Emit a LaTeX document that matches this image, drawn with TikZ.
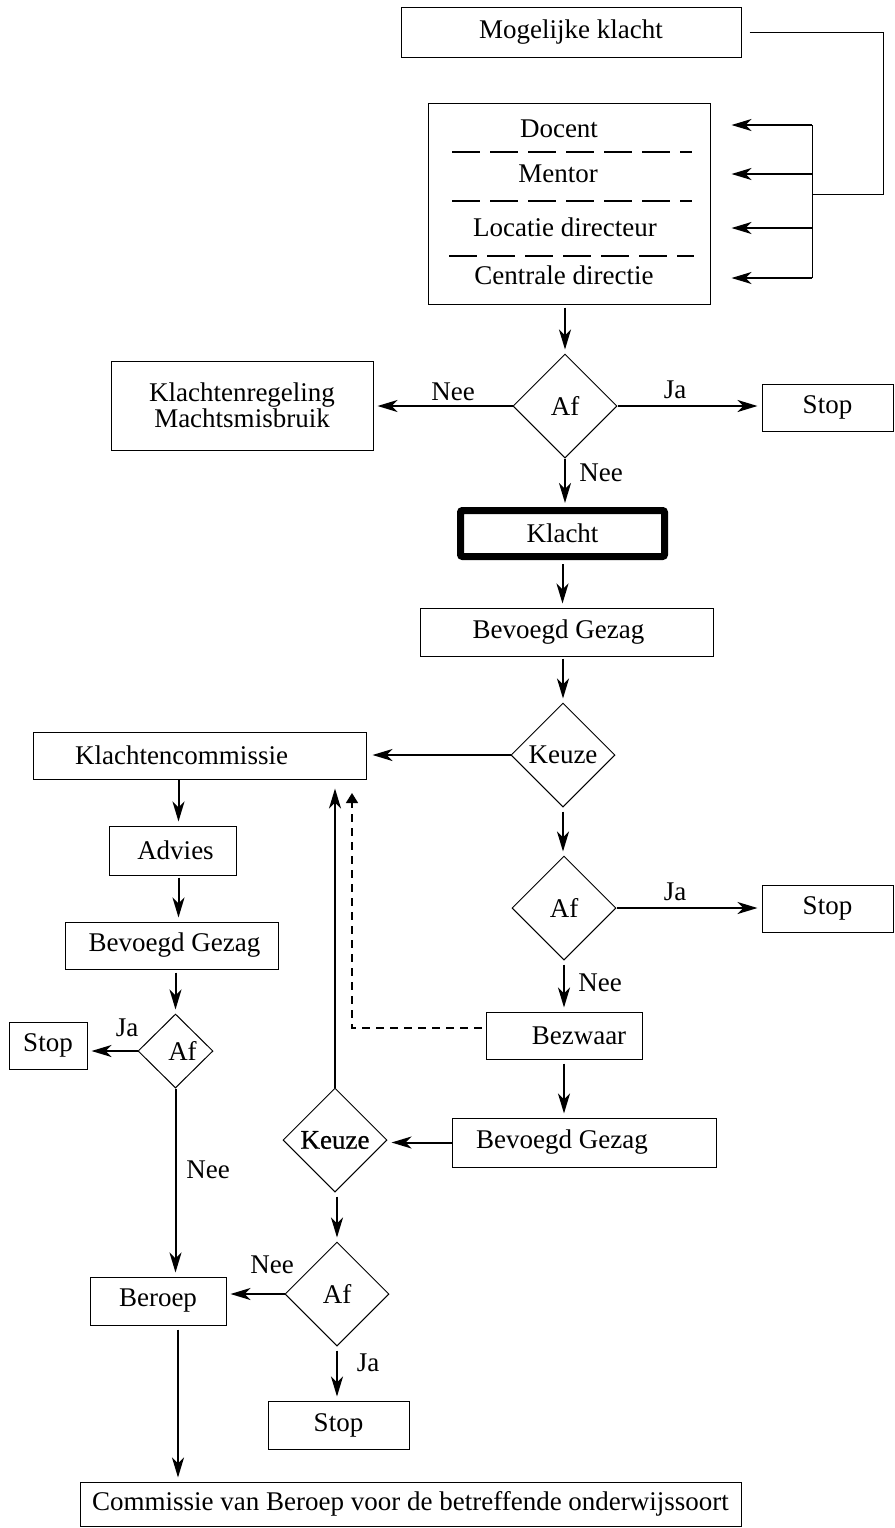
\documentclass[tikz,border=0pt]{standalone}
\usepackage{fontspec}
\setmainfont{Liberation Serif}
\newfontfamily\heavyfont[FakeBold=0.7]{Liberation Serif}
\usetikzlibrary{arrows.meta,shapes.geometric}
\begin{document}
\begin{tikzpicture}[x=0.5pt,y=-0.5pt,
  font=\fontsize{13.5}{13}\selectfont,
  box/.style={draw, line width=0.5pt, inner sep=0pt},
  dia/.style={draw, diamond, aspect=1, line width=0.5pt, inner sep=0pt, minimum width=52pt, minimum height=52pt},
  arr/.style={line width=1pt, shorten >=2pt, -{Stealth[length=10pt,width=6pt,inset=3pt]}},
  thinarr/.style={line width=0.6pt, -{Stealth[length=10pt,width=6pt,inset=3pt]}},
  thickarr/.style={line width=1pt, -{Stealth[length=10pt,width=6pt,inset=3pt]}},
  darr/.style={line width=0.75pt, dash pattern=on 4pt off 3pt, shorten <=2pt, -{Triangle[length=5pt,width=6pt]}},
  sep/.style={line width=0.75pt, dash pattern=on 14pt off 5pt},
  wire/.style={line width=0.5pt},
  lbl/.style={inner sep=0pt},
]
\useasboundingbox (0,0) rectangle (895,1528);

% top part
\node[box, minimum width=170pt, minimum height=25pt] (mog) at (571,32) {Mogelijke klacht};
\node[box, minimum width=141pt, minimum height=100.5pt] (loket) at (569,203.5) {};
\node[lbl] (docent) at (559,129) {Docent};
\node[lbl] (mentor) at (558,174) {Mentor};
\node[lbl] (locatie) at (565,227) {Locatie directeur};
\node[lbl] (centrale) at (564,275) {Centrale directie};
\draw[sep] (452,152) -- (692,152);
\draw[sep] (452,201) -- (692,201);
\draw[sep] (449,256) -- (694,256);

\coordinate (c2) at (883,194);
\coordinate (bus) at (812,194);
\coordinate (m1) at (812,125);
\coordinate (m2) at (812,174);
\coordinate (m3) at (812,228);
\coordinate (m4) at (812,278);
\draw[wire] ([xshift=4pt]mog.east) -| (c2) -- (bus);
\draw[wire] (m1) -- (m4);
\draw[thinarr] (m1) -- ([xshift=10.5pt]loket.east |- m1);
\draw[thickarr] (m2) -- ([xshift=10.5pt]loket.east |- m2);
\draw[thickarr] (m3) -- ([xshift=10.5pt]loket.east |- m3);
\draw[thinarr] (m4) -- ([xshift=10.5pt]loket.east |- m4);

% first decision
\node[dia] (af1) at (565,406) {Af};
\node[box, minimum width=131pt, minimum height=44.5pt, align=center] (regel) at (242,405.5) {Klachtenregeling\\Machtsmisbruik};
\node[box, minimum width=65.5pt, minimum height=23.5pt] (stop1) at (827.5,407.5) {Stop};
\draw[arr, shorten <=1.5pt] (af1.north |- loket.south) -- (af1.north);
\draw[arr] (af1.west) -- (af1.west -| regel.east);
\draw[arr] (af1.east) -- (af1.east -| stop1.west);
\node[lbl] (nee1) at (453,392) {Nee};
\node[lbl] (ja1) at (675,390) {Ja};

\node[draw, line width=3.5pt, rounded corners=1pt, inner sep=0pt, minimum width=102pt, minimum height=23pt] (klacht) at (562.5,533.5) {Klacht};
\draw[arr] (af1.south) -- (af1.south |- klacht.north);
\node[lbl] (nee2) at (601,473) {Nee};

\node[box, minimum width=146.5pt, minimum height=24pt] (bg1) at (566.5,632) {Bevoegd Gezag\hspace*{8pt}};
\draw[arr, shorten <=2pt] (klacht.south) -- (klacht.south |- bg1.north);

\node[dia] (keuze1) at (563,755) {Keuze};
\draw[arr, shorten <=1pt] (bg1.south -| keuze1.north) -- (keuze1.north);

% left column
\node[box, minimum width=166.5pt, minimum height=23.5pt] (kc) at (199.5,755.5) {Klachtencommissie\hspace*{18pt}};
\draw[arr, shorten >=3pt] (keuze1.west) -- (keuze1.west -| kc.east);

\node[box, minimum width=63.5pt, minimum height=24.5pt] (advies) at (172.5,850.5) {\hspace*{3pt}Advies};
\draw[arr] ([xshift=3pt]advies.north |- kc.south) -- ([xshift=3pt]advies.north);

\node[box, minimum width=106.5pt, minimum height=23.5pt] (bg2) at (171.5,945.5) {\hspace*{3pt}Bevoegd Gezag};
\draw[arr, shorten <=1pt] ([xshift=3pt]advies.south) -- ([xshift=3pt]advies.south |- bg2.north);

\node[dia, minimum width=37.5pt, minimum height=37pt] (af2) at (175.5,1051) {\hspace*{7pt}Af};
\draw[arr, shorten <=1.5pt] (af2.north |- bg2.south) -- (af2.north);

\node[box, minimum width=39pt, minimum height=23.5pt] (stop2) at (48,1045.5) {Stop};
\draw[arr] (af2.west) -- (af2.west -| stop2.east);
\node[lbl] (ja2) at (127,1028) {Ja};

\node[box, minimum width=68pt, minimum height=24pt] (beroep) at (158,1301) {Beroep};
\draw[arr] (af2.south) -- (af2.south |- beroep.north);
\node[lbl] (nee3) at (208,1170) {Nee};

\node[box, minimum width=330.5pt, minimum height=22pt] (comm) at (410.5,1504) {Commissie van Beroep voor de betreffende onderwijssoort};
\draw[arr, shorten <=2pt] ([xshift=10pt]beroep.south) -- ([xshift=10pt]beroep.south |- comm.north);

% right column
\node[dia] (af3) at (564,908) {Af};
\draw[arr, shorten <=2pt] (keuze1.south) -- (keuze1.south |- af3.north);
\node[box, minimum width=65.5pt, minimum height=23.5pt] (stop3) at (827.5,908.5) {Stop};
\draw[arr] (af3.east) -- (af3.east -| stop3.west);
\node[lbl] (ja3) at (675,892) {Ja};

\node[box, minimum width=78pt, minimum height=23.5pt] (bezwaar) at (564,1035.5) {\hspace*{15pt}Bezwaar};
\draw[arr, shorten <=2pt] (af3.south) -- (af3.south |- bezwaar.north);
\node[lbl] (nee4) at (600,983) {Nee};

\node[box, minimum width=132pt, minimum height=24.5pt] (bg3) at (584,1142.5) {Bevoegd Gezag\hspace*{22pt}};
\draw[arr, shorten <=2pt] (bezwaar.south) -- (bezwaar.south |- bg3.north);

\node[dia] (keuze2) at (335,1140) {\heavyfont Keuze};
\draw[arr] (bg3.west) -- (bg3.west -| keuze2.east);

\coordinate (dtip) at (352,793);
\draw[darr] ([yshift=3.75pt]bezwaar.west) -| (dtip);
\draw[arr, shorten >=0pt] (keuze2.north) -- ([yshift=-4.5pt]keuze2.north |- kc.south);

\node[dia] (af4) at (337,1294) {Af};
\draw[arr, shorten <=2pt] ([xshift=1pt]keuze2.south) -- ([xshift=1pt]keuze2.south |- af4.north);
\draw[arr] (af4.west) -- (af4.west -| beroep.east);
\node[lbl] (nee5) at (272,1265) {Nee};

\node[box, minimum width=70.5pt, minimum height=24pt] (stop4) at (338.5,1425) {Stop};
\draw[arr, shorten <=2pt] (af4.south) -- (af4.south |- stop4.north);
\node[lbl] (ja4) at (368,1363) {Ja};
\end{tikzpicture}
\end{document}
